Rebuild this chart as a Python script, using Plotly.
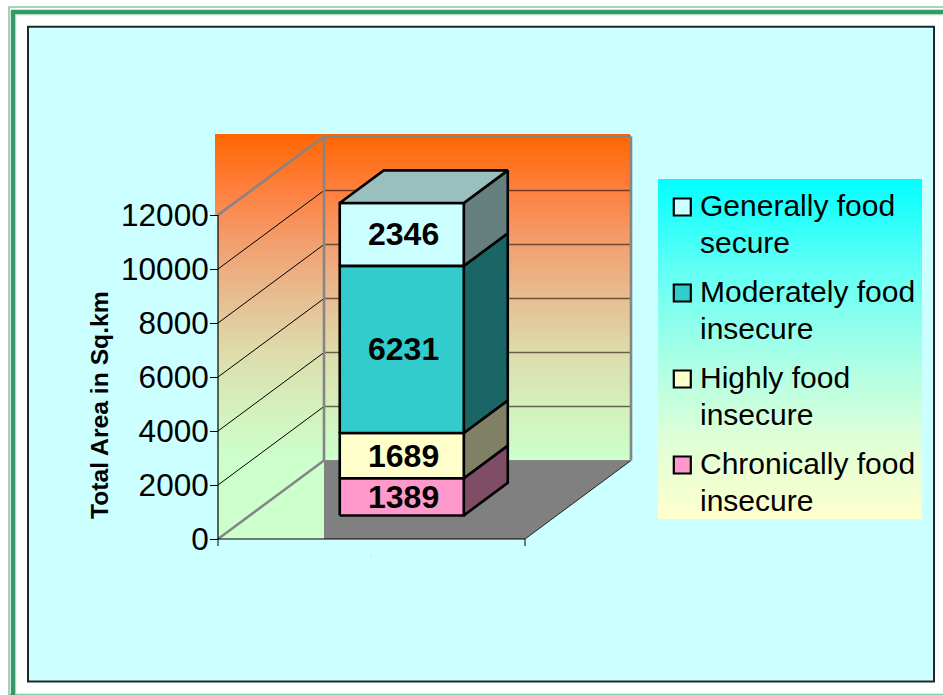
import plotly.graph_objects as go

# ---- data ----
series_names = ["Chronically food insecure", "Highly food insecure", "Moderately food insecure", "Generally food secure"]
legend_lines = [["Generally food", "secure"], ["Moderately food", "insecure"], ["Highly food", "insecure"], ["Chronically food", "insecure"]]
series_values = [1389, 1689, 6231, 2346]
front_colors = ["#FF99CC", "#FFFFCC", "#33CCCC", "#CCFFFF"]
side_colors = ["#804D66", "#808066", "#1A6666", "#668080"]
top_color = "#9ABFBF"
y_ticks = [0, 2000, 4000, 6000, 8000, 10000, 12000]
y_title = "Total Area in Sq.km"

# ---- page / projection setup ----
W, H = 943, 695
Y0, PX_PER_UNIT = 539.0, 0.027      # pixel of value 0, pixels per unit
X0, FLOOR_W, DEPTH_X, DEPTH_V = 218.0, 307.0, 106.0, 2907.0
BAR_FRAC = (0.293, 0.697)
BAR_Z = (0.30, 0.715)
BAR_SCALE = 0.993
FONT = "Liberation Sans"


def val(p):
    return (Y0 - p) / PX_PER_UNIT


def proj(frac, value, z):
    return X0 + FLOOR_W * frac + DEPTH_X * z, value + DEPTH_V * z


def poly(points, **kw):
    xs = [p[0] for p in points] + [points[0][0]]
    ys = [p[1] for p in points] + [points[0][1]]
    return go.Scatter(x=xs, y=ys, mode="lines", showlegend=False, hoverinfo="skip", **kw)


def seg(a, b, color, width):
    return go.Scatter(x=[a[0], b[0]], y=[a[1], b[1]], mode="lines", showlegend=False, hoverinfo="skip",
                      line=dict(color=color, width=width))


fig = go.Figure()

# walls with gradient
wall_top = val(134)
wall = [(215, wall_top), (630, wall_top), (630, DEPTH_V), proj(0, 0, 1), (324, 0), proj(0, 0, 0),
        (X0, y_ticks[-1]), (215, y_ticks[-1])]
wall_scale = [[0, "#FF6600"], [0.141, "#FE8040"], [0.274, "#F2A070"], [0.407, "#E6BE92"],
              [0.538, "#DEDCAB"], [0.674, "#D4F0BC"], [0.805, "#CCFFCC"], [1, "#CCFFCC"]]
fig.add_trace(poly(wall, fill="toself", line=dict(width=0), fillcolor="rgba(0,0,0,0)",
                   fillgradient=dict(type="vertical", start=wall_top, stop=0, colorscale=wall_scale)))
# floor
fl_bl = (324, 0)
fl_br = proj(1, 0, 0)
fig.add_trace(poly([proj(0, 0, 1), proj(1, 0, 1), fl_br, fl_bl], fill="toself", fillcolor="#808080",
                   line=dict(width=0)))
fig.add_trace(seg(fl_br, proj(1, 0, 1), "#222222", 1))

# gridlines
for t in y_ticks[1:-1]:
    fig.add_trace(seg(proj(0, t, 1), proj(1, t, 1), "rgba(30,20,10,0.62)", 1.4))
    fig.add_trace(seg(proj(0, t, 0), proj(0, t, 1), "#000000", 1))
# grey frame
top = y_ticks[-1]
grey = "#858585"
fig.add_trace(seg(proj(0, top, 0), proj(0, top, 1), grey, 2.5))
fig.add_trace(seg(proj(0, 0, 0), proj(0, 0, 1), grey, 2.5))
fig.add_trace(seg(proj(0, 0, 1), proj(0, top, 1), grey, 2.6))
fig.add_trace(seg(proj(0, top, 1), proj(1, top, 1), grey, 2.5))
fig.add_trace(seg(proj(1, top, 1), proj(1, 0, 1), grey, 2.6))
fig.add_trace(seg(proj(0, 0, 1), proj(1, 0, 1), grey, 1))

# axes lines
fig.add_trace(seg(proj(0, 0, 0), proj(0, top, 0), "#000000", 1.2))
fig.add_trace(seg(proj(0, 0, 0), proj(1, 0, 0), "#000000", 1.2))
for f in (0, 1):
    a = proj(f, 0, 0)
    fig.add_trace(seg(a, (a[0], val(546)), "#000000", 1))

# stacked bar
fa, fb = BAR_FRAC
za, zb = BAR_Z
BAR_LW = 2.6
annotations = []
base = 0.0
for v, fc, sc in zip(series_values, front_colors, side_colors):
    lo, hi = base * BAR_SCALE, (base + v) * BAR_SCALE
    fig.add_trace(poly([proj(fb, lo, za), proj(fb, hi, za), proj(fb, hi, zb), proj(fb, lo, zb)],
                       fill="toself", fillcolor=sc, line=dict(color="#000000", width=BAR_LW)))
    fig.add_trace(poly([proj(fa, lo, za), proj(fb, lo, za), proj(fb, hi, za), proj(fa, hi, za)],
                       fill="toself", fillcolor=fc, line=dict(color="#000000", width=BAR_LW)))
    cx, cy = proj((fa + fb) / 2, (lo + hi) / 2, za)
    annotations.append(dict(x=cx + 2, y=cy, xref="x", yref="y", text="<b>%d</b>" % v, showarrow=False,
                            font=dict(family=FONT, size=32, color="#000000"), xanchor="center", yanchor="middle"))
    base += v
hi = base * BAR_SCALE
fig.add_trace(poly([proj(fa, hi, za), proj(fb, hi, za), proj(fb, hi, zb), proj(fa, hi, zb)],
                   fill="toself", fillcolor=top_color, line=dict(color="#000000", width=BAR_LW)))

# legend panel
legend_scale = [[0, "#00FFFF"], [0.25, "#5CFFF6"], [0.5, "#A3FFE8"], [0.75, "#DCFFD8"], [1, "#FFFFCC"]]
fig.add_trace(poly([(658, val(179)), (922, val(179)), (922, val(519)), (658, val(519))], fill="toself",
                   line=dict(width=0), fillcolor="rgba(0,0,0,0)",
                   fillgradient=dict(type="vertical", start=val(179), stop=val(519), colorscale=legend_scale)))
legend_colors = front_colors[::-1]
for i, (lines, c) in enumerate(zip(legend_lines, legend_colors)):
    top_line = 205 + 86 * i
    fig.add_trace(go.Scatter(x=[682.3], y=[val(top_line + 2)], mode="markers", showlegend=False, hoverinfo="skip",
                             marker=dict(symbol="square", size=17, color=c, line=dict(color="#000000", width=2.2))))
    for j, s in enumerate(lines):
        annotations.append(dict(x=697.5, y=val(top_line + 37 * j), xref="x", yref="y", text=s, showarrow=False,
                                xanchor="left", yanchor="middle", font=dict(family=FONT, size=30, color="#000000")))

annotations.append(dict(x=99.5, y=val(405.5), xref="x", yref="y", text="<b>%s</b>" % y_title, showarrow=False,
                        textangle=-90, xanchor="center", yanchor="middle",
                        font=dict(family=FONT, size=24.7, color="#000000")))
annotations.append(dict(x=371, y=val(554), xref="x", yref="y", text=".", showarrow=False,
                        font=dict(family=FONT, size=6, color="#555555")))


def rect(x0, y0, x1, y1, fill=None, line=None, lw=0):
    return dict(type="rect", xref="paper", yref="paper", x0=x0 / W, x1=x1 / W, y0=1 - y0 / H, y1=1 - y1 / H,
                fillcolor=fill or "rgba(0,0,0,0)", line=dict(color=line or "rgba(0,0,0,0)", width=lw), layer="below")


shapes = [
    rect(9, 7, W + 20, 694.5, None, "#8CC9A8", 1.6),
    rect(13, 12, W + 20, 720, None, "#339966", 4.4),
    rect(15.7, 14.8, W + 20, 720, None, "#A6D6BC", 1),
    rect(28, 26.7, 934, 681.5, "#CCFFFF", "#1E2A2A", 2),
]

fig.update_layout(
    width=W, height=H, autosize=False, margin=dict(l=0, r=0, t=0, b=0), showlegend=False,
    paper_bgcolor="#FFFFFF", plot_bgcolor="rgba(0,0,0,0)", shapes=shapes, annotations=annotations,
    xaxis=dict(range=[0, W], visible=False, fixedrange=True, domain=[0, 1]),
    yaxis=dict(range=[val(H), val(0)], anchor="free", position=X0 / W, tickmode="array", tickvals=y_ticks,
               ticktext=[str(t) for t in y_ticks], ticks="outside", ticklen=8, tickwidth=1, tickcolor="#000000",
               ticklabelstandoff=-5, showgrid=False, zeroline=False, showline=False, fixedrange=True,
               tickfont=dict(family=FONT, size=31.5, color="#000000")),
)
fig.write_html("out.html", post_script="document.body.style.margin='0';document.documentElement.style.overflow='hidden';",
               config=dict(displayModeBar=False))
